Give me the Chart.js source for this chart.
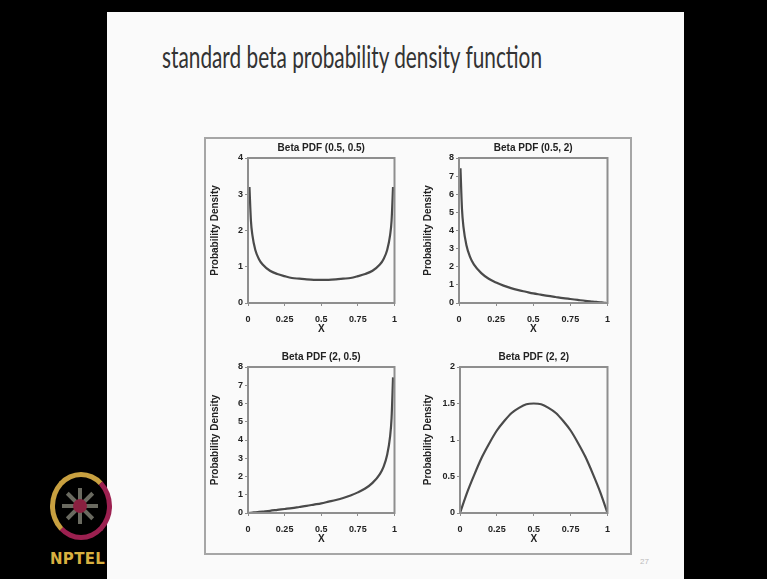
<!DOCTYPE html>
<html>
<head>
<meta charset="utf-8">
<script src="https://cdn.jsdelivr.net/npm/chart.js@4.4.1/dist/chart.umd.min.js"></script>
<style>
  html,body{margin:0;padding:0;}
  body{width:767px;height:579px;position:relative;overflow:hidden;background:#fafafa;font-family:'Liberation Sans',Arial,sans-serif;}
  .blk{position:absolute;background:#000;}
  #title{position:absolute;left:162px;top:38px;font-family:Lato,'Open Sans',sans-serif;font-size:30px;color:#333;white-space:nowrap;transform-origin:0 0;}
  #box{position:absolute;left:204px;top:137px;width:424px;height:414px;border:2px solid #a6a6a6;}
  canvas{position:absolute;}
  #logoRing{position:absolute;left:50px;top:472px;width:62px;height:68px;border-radius:50%;border:5px solid;border-color:#c8a040 #9c2050 #9c2050 #c8a040;box-sizing:border-box;}
  #logoCore{position:absolute;left:73px;top:499px;width:14px;height:14px;border-radius:50%;background:#8a2040;}
  .spoke{position:absolute;left:78px;top:488px;width:4px;height:36px;background:linear-gradient(#6a6a60 0,#6a6a60 35%,transparent 35%,transparent 65%,#6a6a60 65%);transform-origin:2px 18px;}
  #nptel{position:absolute;left:50px;top:550px;font-family:'DejaVu Sans',sans-serif;font-weight:bold;font-size:15px;color:#d8b040;letter-spacing:0.3px;}
  #pg{position:absolute;left:640px;top:557px;font-size:8px;color:#bbb;}
</style>
</head>
<body>
<div class="blk" style="left:0;top:0;width:767px;height:12px;"></div>
<div class="blk" style="left:0;top:0;width:107px;height:579px;"></div>
<div class="blk" style="left:684px;top:0;width:83px;height:579px;"></div>

<div id="title">standard beta probability density function</div>
<div id="box"></div>

<canvas id="c1" width="200" height="197" style="left:205px;top:138px;"></canvas>
<canvas id="c2" width="200" height="197" style="left:418px;top:138px;"></canvas>
<canvas id="c3" width="200" height="198" style="left:205px;top:347px;"></canvas>
<canvas id="c4" width="200" height="198" style="left:418px;top:347px;"></canvas>

<div id="logoRing"></div>
<div class="spoke" style="transform:rotate(0deg)"></div>
<div class="spoke" style="transform:rotate(45deg)"></div>
<div class="spoke" style="transform:rotate(90deg)"></div>
<div class="spoke" style="transform:rotate(135deg)"></div>
<div id="logoCore"></div>
<div id="nptel">NPTEL</div>
<div id="pg">27</div>

<script>
// ---- data ----
const panelTitles = ["Beta PDF (0.5, 0.5)", "Beta PDF (0.5, 2)", "Beta PDF (2, 0.5)", "Beta PDF (2, 2)"];
const xTickValues = [0, 0.25, 0.5, 0.75, 1];
const xTickLabels = ["0", "0.25", "0.5", "0.75", "1"];
const xA = [0.01,0.02,0.03,0.05,0.075,0.1,0.15,0.2,0.25,0.3,0.35,0.4,0.45,0.5,0.55,0.6,0.65,0.7,0.75,0.8,0.85,0.9,0.925,0.95,0.97,0.98,0.99];
const pdfHalfHalf = [3.20,2.27,1.87,1.46,1.21,1.06,0.89,0.80,0.74,0.69,0.67,0.65,0.64,0.64,0.64,0.65,0.67,0.69,0.74,0.80,0.89,1.06,1.21,1.46,1.87,2.27,3.20];
const pdfHalfTwo = [7.43,5.20,4.20,3.19,2.53,2.13,1.65,1.34,1.13,0.96,0.82,0.71,0.62,0.53,0.46,0.39,0.33,0.27,0.22,0.17,0.12,0.08,0.06,0.04,0.023,0.015,0.008];
const pdfTwoHalf = [0.008,0.015,0.023,0.04,0.06,0.08,0.12,0.17,0.22,0.27,0.33,0.39,0.46,0.53,0.62,0.71,0.82,0.96,1.13,1.34,1.65,2.13,2.53,3.19,4.20,5.20,7.43];
const xB = [0,0.05,0.1,0.15,0.2,0.25,0.3,0.35,0.4,0.45,0.5,0.55,0.6,0.65,0.7,0.75,0.8,0.85,0.9,0.95,1];
const pdfTwoTwo = [0,0.29,0.54,0.77,0.96,1.13,1.26,1.37,1.44,1.49,1.5,1.49,1.44,1.37,1.26,1.13,0.96,0.77,0.54,0.29,0];
const yMax = [4, 8, 8, 2];
const yStep = [1, 1, 1, 0.5];

// ---- title width fit ----
(function(){
  const t = document.getElementById('title');
  const w = t.getBoundingClientRect().width;
  t.style.transform = 'scaleX(' + (380 / w) + ')';
})();

const fontFam = "'Liberation Sans Narrow','Liberation Sans',Arial,sans-serif";
const frame = {
  id: 'frame',
  afterDraw(chart) {
    const a = chart.chartArea, ctx = chart.ctx;
    ctx.save();
    ctx.strokeStyle = '#8e8e8e';
    ctx.lineWidth = 2;
    ctx.strokeRect(a.left, a.top, a.right - a.left, a.bottom - a.top);
    ctx.restore();
  }
};

function makePanel(id, idx, xs, ys, yAxisWidth) {
  const pts = xs.map((x, i) => ({x: x, y: ys[i]}));
  new Chart(document.getElementById(id), {
    type: 'line',
    data: { datasets: [{ data: pts, borderColor: '#4a4a4a', borderWidth: 2.2, pointRadius: 0, cubicInterpolationMode: 'monotone', fill: false }] },
    options: {
      responsive: false, animation: false,
      layout: { padding: { left: 0, right: 8, top: 0, bottom: 0 } },
      plugins: {
        legend: { display: false },
        tooltip: { enabled: false },
        title: { display: true, text: panelTitles[idx], fullSize: false, color: '#222',
                 font: { family: fontFam, size: 10, weight: 'bold' }, padding: { top: 4, bottom: 4 } }
      },
      scales: {
        x: {
          type: 'linear', min: 0, max: 1,
          afterBuildTicks: (s) => { s.ticks = xTickValues.map(v => ({ value: v })); },
          afterFit: (s) => { s.height = 32; },
          ticks: { callback: (v) => xTickLabels[xTickValues.indexOf(v)], color: '#222', padding: 8, maxRotation: 0,
                   font: { family: fontFam, size: 9, weight: 'bold' } },
          grid: { drawOnChartArea: false, drawTicks: true, tickLength: 3, color: '#8e8e8e' },
          border: { display: false },
          title: { display: true, text: 'X', color: '#222', padding: { top: 0, bottom: 0 },
                   font: { family: fontFam, size: 10, weight: 'bold' } }
        },
        y: {
          min: 0, max: yMax[idx],
          afterFit: (s) => { s.width = yAxisWidth; },
          ticks: { stepSize: yStep[idx], color: '#222', padding: 2,
                   callback: (v) => String(Number(v)),
                   font: { family: fontFam, size: 9, weight: 'bold' } },
          grid: { drawOnChartArea: false, drawTicks: true, tickLength: 3, color: '#8e8e8e' },
          border: { display: false },
          title: { display: true, text: 'Probability Density', color: '#222', padding: { top: 4, bottom: 0 },
                   font: { family: fontFam, size: 10, weight: 'bold' } }
        }
      }
    },
    plugins: [frame]
  });
}

makePanel('c1', 0, xA, pdfHalfHalf, 43);
makePanel('c2', 1, xA, pdfHalfTwo, 41);
makePanel('c3', 2, xA, pdfTwoHalf, 43);
makePanel('c4', 3, xB, pdfTwoTwo, 42);
</script>
</body>
</html>
